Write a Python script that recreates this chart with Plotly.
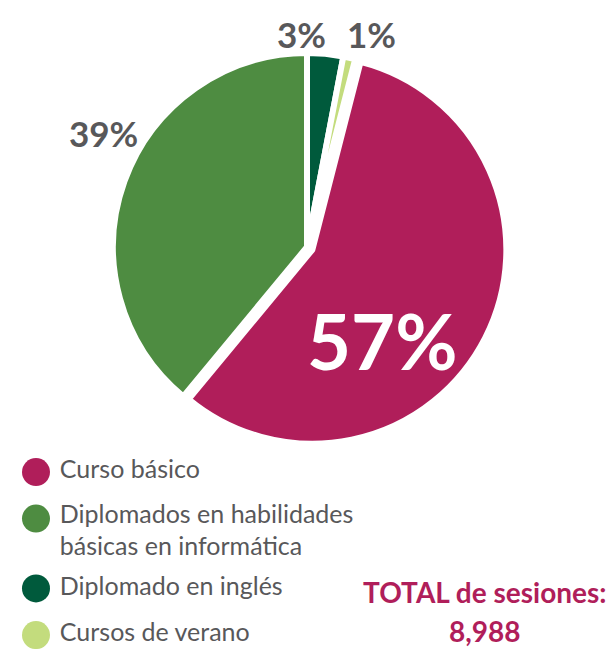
import plotly.graph_objects as go

# Data
labels = ["Diplomado en inglés", "Cursos de verano", "Curso básico",
          "Diplomados en habilidades básicas en informática"]
values = [3, 1, 57, 39]
colors = ["#005A3C", "#C3DC7D", "#B01E5A", "#4E8C41"]

legend_labels = ["Curso básico", "Diplomados en habilidades<br>básicas en informática",
                 "Diplomado en inglés", "Cursos de verano"]
legend_colors = ["#B01E5A", "#4E8C41", "#005A3C", "#C3DC7D"]
legend_lines = [1, 2, 1, 1]

total_title = "TOTAL de sesiones:"
total_value = "8,988"

GRAY = "#58585A"
MAGENTA = "#B01E5A"
FONT = "Lato"

W, H = 612, 649

fig = go.Figure()
fig.add_trace(go.Pie(
    labels=labels, values=values, sort=False, direction="clockwise", rotation=0,
    marker=dict(colors=colors, line=dict(color="white", width=6)),
    pull=[0, 0, 0.031, 0],
    textinfo="none",
    domain=dict(x=[107 / W, 507 / W], y=[(H - 447) / H, (H - 47) / H]),
    showlegend=False, hoverinfo="label+percent",
))

# percentage labels (placement of each slice's label)
label_pos = {  # pixel centre of each slice's label
    "Diplomado en inglés": (301, 34, 35, GRAY),
    "Cursos de verano": (372, 34, 35, GRAY),
    "Curso básico": (382, 340, 76, "white"),
    "Diplomados en habilidades básicas en informática": (103, 133, 35, GRAY),
}
for lab, val in zip(labels, values):
    px, py, fs, col = label_pos[lab]
    fig.add_annotation(text=f"<b>{val}%</b>", xref="paper", yref="paper",
                       x=px / W, y=1 - py / H, xanchor="center", yanchor="middle",
                       showarrow=False, font=dict(family=FONT, size=fs, color=col))

# manual legend with circle markers
ys_circle, ys_text = [], []
pos = 0.0
for n in legend_lines:
    ys_circle.append(-pos)
    ys_text.append(-(pos + (n - 1) * 0.3))
    pos += 1 + (n - 1) * 0.5
fig.add_trace(go.Scatter(
    x=[0.098] * len(legend_labels), y=ys_circle, mode="markers",
    marker=dict(size=28, color=legend_colors, line=dict(width=0)),
    showlegend=False, hoverinfo="skip", xaxis="x", yaxis="y", cliponaxis=False,
))
fig.add_trace(go.Scatter(
    x=[0.163] * len(legend_labels), y=ys_text, mode="text",
    text=legend_labels, textposition="middle right",
    textfont=dict(family=FONT, size=25, color=GRAY),
    showlegend=False, hoverinfo="skip", xaxis="x", yaxis="y", cliponaxis=False,
))

fig.add_annotation(text=f"<b>{total_title}</b>", xref="paper", yref="paper",
                   x=485 / W, y=1 - 592 / H, xanchor="center", yanchor="middle",
                   showarrow=False, font=dict(family=FONT, size=28, color=MAGENTA))
fig.add_annotation(text=f"<b>{total_value}</b>", xref="paper", yref="paper",
                   x=485 / W, y=1 - 631 / H, xanchor="center", yanchor="middle",
                   showarrow=False, font=dict(family=FONT, size=28, color=MAGENTA))

fig.update_layout(
    width=W, height=H, margin=dict(l=0, r=0, t=0, b=0),
    paper_bgcolor="white", plot_bgcolor="white",
    xaxis=dict(domain=[0, 0.6], range=[0, 1], visible=False, fixedrange=True),
    yaxis=dict(domain=[0.0, 0.31], range=[-3.80, 0.52], visible=False, fixedrange=True),
)

fig.write_html("out.html", config={"displayModeBar": False},
               post_script="document.body.style.margin='0px';")
